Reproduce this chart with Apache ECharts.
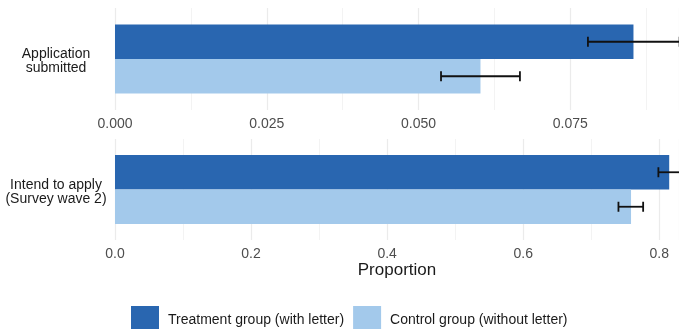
<!DOCTYPE html>
<html>
<head>
<meta charset="utf-8">
<script src="https://cdn.jsdelivr.net/npm/echarts@6/dist/echarts.min.js"></script>
<style>html,body{margin:0;padding:0;background:#fff}#c{width:679px;height:329px}</style>
</head>
<body>
<div id="c"></div>
<script>
// ---- data ----
const categories = ['Application\nsubmitted', 'Intend to apply\n(Survey wave 2)'];
const groupNames = ['Treatment group (with letter)', 'Control group (without letter)'];
const treatment = [0.0854, 0.8146];
const treatmentLow = [0.0779, 0.7987];
const treatmentHigh = [0.0930, 0.8305];
const control = [0.0602, 0.7585];
const controlLow = [0.0537, 0.7400];
const controlHigh = [0.0667, 0.7763];
const axisMax = [0.0929, 0.829];
const axisInterval = [0.025, 0.2];
const labelDecimals = [3, 1];

// ---- style ----
const C_T = '#2966B0', C_C = '#A3C9EB';
const BAR_W = 34.5;
const FONT = 'Liberation Sans, Arial, sans-serif';

const chart = echarts.init(document.getElementById('c'), null, {renderer: 'canvas'});

const grids = [
  {left: 115, right: 0, top: 8, height: 102},
  {left: 115, right: 0, top: 139, height: 101}
];

const xAxes = [0, 1].map(i => ({
  type: 'value', gridIndex: i, min: 0, max: axisMax[i], interval: axisInterval[i],
  axisLine: {show: false}, axisTick: {show: false},
  axisLabel: {
    color: '#4D4D4D', fontSize: 14, fontFamily: FONT, margin: 7,
    showMaxLabel: false,
    formatter: v => v.toFixed(labelDecimals[i])
  },
  splitLine: {show: true, lineStyle: {color: '#EBEBEB', width: 1.2}},
  minorTick: {show: false, splitNumber: 2},
  minorSplitLine: {show: true, lineStyle: {color: '#F3F3F3', width: 1}},
  name: i === 1 ? 'Proportion' : '',
  nameLocation: 'middle', nameGap: 22,
  nameTextStyle: {color: '#1A1A1A', fontSize: 17, fontFamily: FONT}
}));

const yAxes = [0, 1].map(i => ({
  type: 'category', gridIndex: i, data: [categories[i]], inverse: true,
  axisLine: {show: false}, axisTick: {show: false},
  axisLabel: {
    color: '#1A1A1A', fontSize: 14, fontFamily: FONT, align: 'center', margin: 59,
    formatter: v => '{t|' + v.split('\n').join('}\n{t|') + '}',
    rich: {t: {fontSize: 14, fontFamily: FONT, color: '#1A1A1A', lineHeight: 14, padding: [5, 0, 0, 0], align: 'center'}}
  },
  splitLine: {show: false}
}));

const series = [];
[0, 1].forEach(i => {
  series.push({
    type: 'bar', name: groupNames[0], xAxisIndex: i, yAxisIndex: i,
    data: [treatment[i]], barWidth: BAR_W, barGap: '0%',
    itemStyle: {color: C_T}, silent: true, z: 2
  });
  series.push({
    type: 'bar', name: groupNames[1], xAxisIndex: i, yAxisIndex: i,
    data: [control[i]], barWidth: BAR_W, barGap: '0%',
    itemStyle: {color: C_C}, silent: true, z: 2
  });
  series.push({
    type: 'custom', xAxisIndex: i, yAxisIndex: i, silent: true, clip: true, z: 10,
    data: [[treatmentLow[i], treatmentHigh[i], 0, -1], [controlLow[i], controlHigh[i], 0, 1]],
    encode: {x: [0, 1], y: 2},
    renderItem: (params, api) => {
      const lo = api.coord([api.value(0), api.value(2)]);
      const hi = api.coord([api.value(1), api.value(2)]);
      const y = lo[1] + api.value(3) * BAR_W / 2;
      const h = 5;
      const st = {stroke: '#111', lineWidth: 1.8};
      return {
        type: 'group',
        children: [
          {type: 'line', shape: {x1: lo[0], y1: y, x2: hi[0], y2: y}, style: st},
          {type: 'line', shape: {x1: lo[0], y1: y - h, x2: lo[0], y2: y + h}, style: st},
          {type: 'line', shape: {x1: hi[0], y1: y - h, x2: hi[0], y2: y + h}, style: st}
        ]
      };
    }
  });
});

chart.setOption({
  animation: false,
  grid: grids,
  xAxis: xAxes,
  yAxis: yAxes,
  legend: {
    data: groupNames,
    left: 131, top: 306, padding: 0,
    itemWidth: 28, itemHeight: 28, itemGap: 9,
    icon: 'rect',
    textStyle: {color: '#1A1A1A', fontSize: 14, fontFamily: FONT, padding: [0, 0, 0, 4]}
  },
  series: series
});
</script>
</body>
</html>
